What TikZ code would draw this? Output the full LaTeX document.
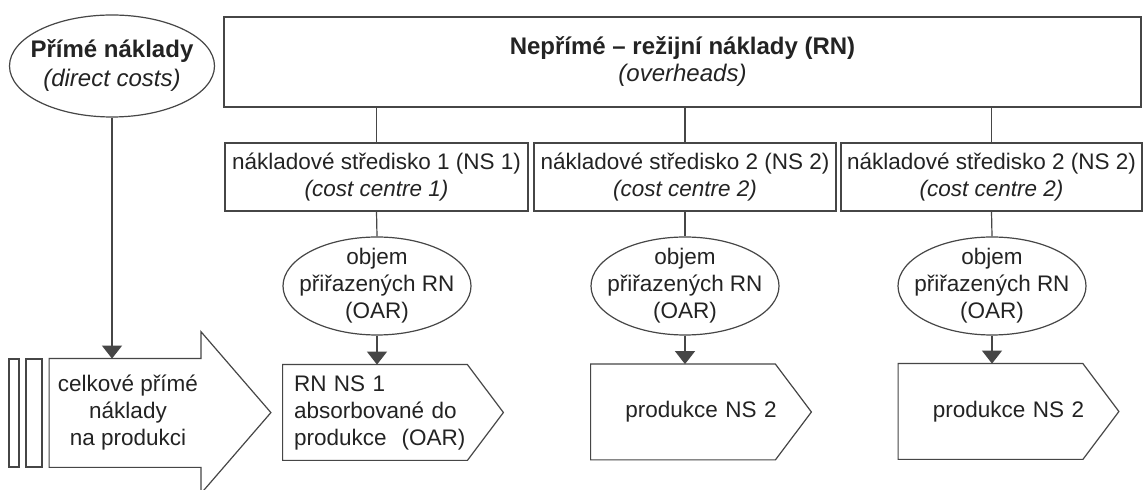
\documentclass[tikz,border=0pt]{standalone}
\usepackage{fontspec}
\setmainfont{Liberation Sans}
\usetikzlibrary{shapes.geometric,arrows.meta,calc}
\definecolor{linegray}{RGB}{70,70,70}
\definecolor{textgray}{RGB}{35,35,35}

\begin{document}
\begin{tikzpicture}[x=0.5pt, y=-0.5pt,
    every node/.style={font=\fontsize{11.25}{13.5}\selectfont, text=textgray},
    head/.style={font=\fontsize{12}{14.5}\selectfont},
    box/.style={rectangle, draw=linegray, line width=0.6pt, align=center, inner sep=0pt},
    oval/.style={ellipse, draw=linegray, line width=0.6pt, align=center, inner xsep=-6pt, inner ysep=-2pt},
    prodbox/.style={inner xsep=5.5pt, inner ysep=0pt, text width=99pt, minimum height=47.5pt},
    conn/.style={draw=linegray, line width=0.6pt},
    arr/.style={conn, -{Triangle[width=10pt,length=6.5pt]}}]
    \useasboundingbox (0,0) rectangle (1145,490);
    \fill[white] (0,0) rectangle (1145,490);
    \clip (0,0) rectangle (1145,490);

    % Direct costs
    \node[oval, head, minimum width=102.5pt, minimum height=51pt] (prime) at (112,66) {\textbf{Přímé náklady}\\\textit{(direct costs)}};

    % Overheads and cost centres
    \node[box, head, minimum width=458.5pt, minimum height=45pt] (overhead) at (682.5,62) {\textbf{Nepřímé – režijní náklady (RN)}\\[-1pt]\textit{(overheads)}};
    \node[box, minimum width=151.5pt, minimum height=34pt] (centre1) at (376.5,177) {nákladové středisko 1 (NS 1)\\\textit{(cost centre 1)}};
    \node[box, minimum width=151pt, minimum height=34pt] (centre2) at (685,177) {nákladové středisko 2 (NS 2)\\\textit{(cost centre 2)}};
    \node[box, minimum width=150.5pt, minimum height=34pt] (centre3) at (991.5,177) {nákladové středisko 2 (NS 2)\\\textit{(cost centre 2)}};

    % Absorption rates
    \node[oval, minimum width=94pt, minimum height=49pt] (oar1) at (377,286) {objem\\přiřazených RN\\(OAR)};
    \node[oval, minimum width=94pt, minimum height=49pt] (oar2) at (685,286) {objem\\přiřazených RN\\(OAR)};
    \node[oval, minimum width=94pt, minimum height=49pt] (oar3) at (992,286) {objem\\přiřazených RN\\(OAR)};

    % Production
    \node[inner sep=0pt, minimum width=75.5pt, minimum height=54pt, align=center] (total) at (128,413) {celkové přímé\\náklady\\na produkci};
    \node[draw=linegray, line width=0.6pt, inner sep=0pt, minimum width=5pt, minimum height=54pt] (bar1) at (14,413) {};
    \node[draw=linegray, line width=0.6pt, inner sep=0pt, minimum width=8pt, minimum height=54pt] (bar2) at (34,413) {};
    \node[prodbox, align=left] (prod1) at (393,412.5) {RN NS 1\\absorbované do\\produkce\ \ (OAR)};
    \node[prodbox, align=center] (prod2) at (701,412) {produkce NS 2};
    \node[prodbox, align=center] (prod3) at (1008.5,411.5) {produkce NS 2};

    \draw[conn] ([xshift=-1.5pt]total.south west) -- ([xshift=-1.5pt]total.north west) -- ([xshift=-1.5pt]total.north east) -- ++(0,-27) -- ++(70,81) -- ++(-70,81) -- ([xshift=-1.5pt]total.south east) -- cycle;
    \draw[conn] (prod1.north west) -- ([xshift=-18pt]prod1.north east) -- (prod1.east) -- ([xshift=-18pt]prod1.south east) -- (prod1.south west) -- cycle;
    \draw[conn] (prod2.north west) -- ([xshift=-18pt]prod2.north east) -- (prod2.east) -- ([xshift=-18pt]prod2.south east) -- (prod2.south west) -- cycle;
    \draw[conn] (prod3.north west) -- ([xshift=-18pt]prod3.north east) -- (prod3.east) -- ([xshift=-18pt]prod3.south east) -- (prod3.south west) -- cycle;

    \draw[arr] (prime.south) -- (prime.south |- total.north);
    \draw[conn] (overhead.south -| centre1.north) -- (centre1.north);
    \draw[conn] (overhead.south -| centre2.north) -- (centre2.north);
    \draw[conn] (overhead.south -| centre3.north) -- (centre3.north);
    \draw[conn] (centre1.south) -- (oar1.north);
    \draw[conn] (centre2.south) -- (oar2.north);
    \draw[conn] (centre3.south) -- (oar3.north);
    \draw[arr] (oar1.south) -- (oar1.south |- prod1.north);
    \draw[arr] (oar2.south) -- (oar2.south |- prod2.north);
    \draw[arr] (oar3.south) -- (oar3.south |- prod3.north);
\end{tikzpicture}
\end{document}
